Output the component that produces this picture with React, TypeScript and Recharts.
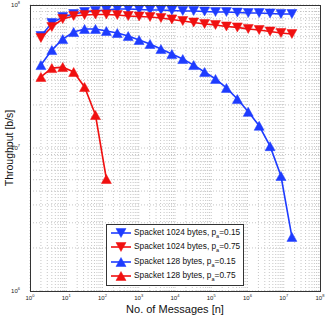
import { LineChart, Line, XAxis, YAxis, CartesianGrid } from 'recharts';

// message counts n = 2^1 .. 2^24
const messages = [
  2, 4, 8, 16, 32, 64, 128, 256, 512, 1024, 2048, 4096, 8192, 16384, 32768,
  65536, 131072, 262144, 524288, 1048576, 2097152, 4194304, 8388608, 16777216,
];

// throughput [b/s]
const s1024p15 = [
  6.07e7, 7.48e7, 8.24e7, 8.65e7, 8.93e7, 9.08e7, 9.23e7, 9.38e7, 9.38e7, 9.31e7,
  9.23e7, 9.23e7, 9.15e7, 9.08e7, 9.08e7, 9.01e7, 8.93e7, 8.93e7, 8.86e7, 8.79e7,
  8.79e7, 8.73e7, 8.65e7, 8.65e7,
];
const s1024p75 = [
  5.88e7, 7.02e7, 7.98e7, 8.38e7, 8.51e7, 8.58e7, 8.58e7, 8.51e7, 8.38e7, 8.31e7,
  8.24e7, 8.11e7, 7.92e7, 7.73e7, 7.55e7, 7.37e7, 7.25e7, 7.08e7, 6.97e7, 6.8e7,
  6.68e7, 6.53e7, 6.37e7, 6.27e7,
];
const s128p15 = [
  3.8e7, 4.84e7, 5.78e7, 6.47e7, 6.8e7, 6.8e7, 6.58e7, 6.37e7, 6.07e7, 5.69e7,
  5.34e7, 4.92e7, 4.54e7, 4.19e7, 3.8e7, 3.4e7, 3.04e7, 2.63e7, 2.2e7, 1.79e7,
  1.43e7, 1.03e7, 6.37e6, 2.39e6,
];
const s128p75 = [3.14e7, 3.62e7, 3.68e7, 3.4e7, 2.67e7, 1.7e7, 6.07e6];

const xDecades = [1, 1e1, 1e2, 1e3, 1e4, 1e5, 1e6, 1e7, 1e8];
const yDecades = [1e6, 1e7, 1e8];

const BLUE = '#1e3cff';
const RED = '#f01010';

const series = [
  { key: 'a', label: 'Spacket 1024 bytes, p', p: '0.15', color: BLUE, down: true },
  { key: 'b', label: 'Spacket 1024 bytes, p', p: '0.75', color: RED, down: true },
  { key: 'c', label: 'Spacket 128 bytes, p', p: '0.15', color: BLUE, down: false },
  { key: 'd', label: 'Spacket 128 bytes, p', p: '0.75', color: RED, down: false },
];

const withMinor = (decades: number[]) => {
  const out: number[] = [];
  decades.forEach((d, i) => {
    out.push(d);
    if (i < decades.length - 1) for (let m = 2; m <= 9; m++) out.push(d * m);
  });
  return out;
};

const data = messages.map((n, i) => ({
  n,
  a: s1024p15[i],
  b: s1024p75[i],
  c: s128p15[i],
  d: s128p75[i],
}));

const isDecade = (v: number) => {
  const e = Math.round(Math.log10(v));
  return Math.abs(v - Math.pow(10, e)) < v * 1e-6 ? e : null;
};

const Tri = ({ cx, cy, color, down }: any) => {
  if (cx == null || cy == null) return <g />;
  const w = 5, h = 4.5;
  const pts = down
    ? `${cx - w},${cy - h} ${cx + w},${cy - h} ${cx},${cy + h}`
    : `${cx - w},${cy + h} ${cx + w},${cy + h} ${cx},${cy - h}`;
  return <polygon points={pts} fill={color} stroke={color} strokeWidth={0.5} />;
};

const XTick = ({ x, y, payload }: any) => {
  const e = isDecade(payload.value);
  if (e === null) return <g />;
  return (
    <text x={x} y={y + 1} textAnchor="middle" fontSize={6} fill="#222">
      10<tspan dy={-3} fontSize={4}>{e}</tspan>
    </text>
  );
};

const YTick = ({ x, y, payload }: any) => {
  const e = isDecade(payload.value);
  if (e === null) return <g />;
  return (
    <text x={x - 2} y={y + 2} textAnchor="end" fontSize={6} fill="#222">
      10<tspan dy={-3} fontSize={4}>{e}</tspan>
    </text>
  );
};

const font = '"Liberation Sans", Arial, sans-serif';

export default function App() {
  return (
    <div style={{ position: 'absolute', left: 0, top: 0, width: 332, height: 318, background: '#fff', fontFamily: font }}>
      <LineChart width={332} height={318} data={data} margin={{ top: 5, right: 12, bottom: 0, left: 0 }}>
        <CartesianGrid stroke="#b8b8b8" strokeDasharray="1 2" strokeWidth={0.8} />
        <XAxis
          dataKey="n"
          type="number"
          scale="log"
          domain={[1, 1e8]}
          ticks={withMinor(xDecades)}
          tick={<XTick />}
          tickLine={false}
          axisLine={false}
          height={27}
          allowDataOverflow
          interval={0}
        />
        <YAxis
          type="number"
          scale="log"
          domain={[1e6, 1e8]}
          ticks={withMinor(yDecades)}
          tick={<YTick />}
          tickLine={false}
          axisLine={false}
          width={30}
          allowDataOverflow
          interval={0}
        />
        {series.map((s) => (
          <Line
            key={s.key}
            dataKey={s.key}
            stroke={s.color}
            strokeWidth={1.6}
            isAnimationActive={false}
            dot={(p: any) => <Tri key={`${s.key}-${p.index}`} cx={p.cx} cy={p.cy} color={s.color} down={s.down} />}
            activeDot={false}
          />
        ))}
      </LineChart>
      <div style={{ position: 'absolute', left: 30, top: 5, width: 289, height: 285, border: '1px solid #333', pointerEvents: 'none' }} />
      <div style={{ position: 'absolute', left: 0, top: 304, width: 350, textAlign: 'center', fontSize: 11, lineHeight: '11px', color: '#111' }}>
        No. of Messages [n]
      </div>
      <div style={{ position: 'absolute', left: 9, top: 148, whiteSpace: 'nowrap', fontSize: 10.5, lineHeight: '11px', color: '#111', transform: 'translate(-50%, -50%) rotate(-90deg)' }}>
        Throughput [b/s]
      </div>
      <div style={{ position: 'absolute', left: 106, top: 224, width: 136, height: 60, border: '1px solid #333', background: '#fff', boxSizing: 'content-box' }}>
        {series.map((s, i) => (
          <div key={s.key} style={{ position: 'absolute', left: 0, top: 1 + i * 14.3, height: 14, display: 'flex', alignItems: 'center', whiteSpace: 'nowrap' }}>
            <svg width={24} height={14} style={{ marginLeft: 2 }}>
              <line x1={2} y1={7} x2={22} y2={7} stroke={s.color} strokeWidth={1.6} />
              <Tri cx={12} cy={7} color={s.color} down={s.down} />
            </svg>
            <span style={{ fontSize: 8.3, color: '#111', marginLeft: 1 }}>
              {s.label}
              <sub style={{ fontSize: 5.5 }}>a</sub>={s.p}
            </span>
          </div>
        ))}
      </div>
    </div>
  );
}
